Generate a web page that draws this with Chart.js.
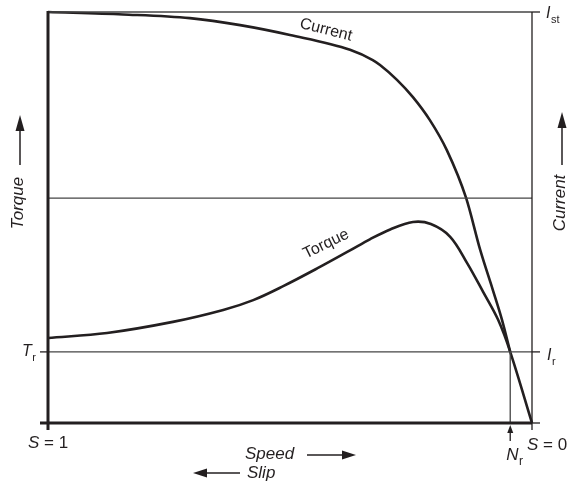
<!DOCTYPE html>
<html><head><meta charset="utf-8">
<script src="https://cdn.jsdelivr.net/npm/chart.js@4"></script>
<style>html,body{margin:0;padding:0;background:#fff}#wrap{width:580px;height:487px}</style>
</head><body><div id="wrap"><canvas id="c" width="580" height="487"></canvas></div>
<script>
// speed as % of synchronous (0 at S = 1, 100 at S = 0); values as % of full scale
const speedCurrent = [0, 15.5, 29.3, 39.7, 50.0, 62.4, 67.1, 68.6, 72.1, 75.4, 78.9, 82.4, 86.4, 89.3, 91.9, 93.8, 95.5];
const currentValues = [100, 99.4, 98.5, 96.8, 94.4, 90.8, 88.3, 87.1, 83.5, 79.3, 73.7, 66.4, 54.7, 42.1, 32.4, 25.1, 17.3];
const speedTorque = [0, 12.2, 25.8, 36.2, 42.4, 48.6, 55.6, 62.4, 66.5, 70.7, 75.4, 79.1, 83.1, 86.6, 89.9, 93.0, 95.5, 100];
const torqueValues = [20.7, 21.9, 24.6, 27.5, 29.9, 33.3, 37.6, 42.0, 44.7, 47.1, 48.9, 48.4, 45.3, 38.9, 31.9, 25.1, 17.3, 0];
const ratedLevel = 17.3;   // T_r / I_r
const midLevel = 54.7;
const startLevel = 100;    // I_st
const ratedSpeed = 95.5;   // N_r

const INK = '#231f20';
const FONT = '"Liberation Sans", Arial, Helvetica, sans-serif';

const pts = (xs, ys) => xs.map((x, i) => ({x, y: ys[i]}));

function arrowHead(ctx, x, y, dir, len, half) {
  ctx.beginPath();
  if (dir === 'up') { ctx.moveTo(x, y); ctx.lineTo(x - half, y + len); ctx.lineTo(x + half, y + len); }
  if (dir === 'right') { ctx.moveTo(x, y); ctx.lineTo(x - len, y - half); ctx.lineTo(x - len, y + half); }
  if (dir === 'left') { ctx.moveTo(x, y); ctx.lineTo(x + len, y - half); ctx.lineTo(x + len, y + half); }
  ctx.closePath(); ctx.fill();
}

function subLabel(ctx, main, sub, x, y, size) {
  ctx.textAlign = 'left'; ctx.textBaseline = 'middle';
  ctx.font = 'italic ' + size + 'px ' + FONT;
  ctx.fillText(main, x, y);
  const w = ctx.measureText(main).width;
  ctx.font = Math.round(size * 0.68) + 'px ' + FONT;
  ctx.fillText(sub, x + w + 0.5, y + size * 0.38);
}

const decor = {
  id: 'decor',
  afterDatasetsDraw(chart) {
    const ctx = chart.ctx, xs = chart.scales.x, ys = chart.scales.y;
    const L = xs.getPixelForValue(0), R = xs.getPixelForValue(100);
    const T = ys.getPixelForValue(100), B = ys.getPixelForValue(0);
    const yr = ys.getPixelForValue(ratedLevel), xn = xs.getPixelForValue(ratedSpeed);
    ctx.save();
    ctx.strokeStyle = INK; ctx.fillStyle = INK;
    ctx.lineWidth = 1.3;
    ctx.beginPath(); ctx.moveTo(R, T); ctx.lineTo(R, B + 7); ctx.stroke();
    [T, yr, B].forEach(y => { ctx.beginPath(); ctx.moveTo(R, y); ctx.lineTo(R + 8, y); ctx.stroke(); });
    ctx.beginPath(); ctx.moveTo(L - 8, yr); ctx.lineTo(L, yr); ctx.stroke();
    ctx.lineWidth = 3;
    ctx.beginPath(); ctx.moveTo(L, T - 1); ctx.lineTo(L, B + 7); ctx.stroke();
    ctx.beginPath(); ctx.moveTo(L - 8, B); ctx.lineTo(R, B); ctx.stroke();

    subLabel(ctx, 'T', 'r', 22, yr, 16);
    subLabel(ctx, 'I', 'st', R + 14, T + 2, 16);
    subLabel(ctx, 'I', 'r', R + 15, yr + 4, 16);

    function sEq(text, x, y, align) {
      ctx.textBaseline = 'middle';
      ctx.font = 'italic 17px ' + FONT;
      const w1 = ctx.measureText('S').width;
      ctx.font = '17px ' + FONT;
      const w2 = ctx.measureText(text).width;
      let x0 = align === 'center' ? x - (w1 + w2) / 2 : x;
      ctx.textAlign = 'left';
      ctx.font = 'italic 17px ' + FONT; ctx.fillText('S', x0, y);
      ctx.font = '17px ' + FONT; ctx.fillText(text, x0 + w1, y);
    }
    sEq(' = 1', L, B + 20, 'center');
    sEq(' = 0', R - 5, B + 22, 'left');

    subLabel(ctx, 'N', 'r', xn - 4, B + 32, 17);
    ctx.lineWidth = 1.3;
    ctx.beginPath(); ctx.moveTo(xn, B + 18); ctx.lineTo(xn, B + 6); ctx.stroke();
    arrowHead(ctx, xn, B + 2, 'up', 8, 3);

    ctx.textAlign = 'left'; ctx.textBaseline = 'middle';
    ctx.font = 'italic 17px ' + FONT;
    ctx.fillText('Speed', 245, B + 31);
    ctx.fillText('Slip', 247, B + 50);
    ctx.lineWidth = 1.5;
    ctx.beginPath(); ctx.moveTo(307, B + 32); ctx.lineTo(345, B + 32); ctx.stroke();
    arrowHead(ctx, 356, B + 32, 'right', 14, 4.5);
    ctx.beginPath(); ctx.moveTo(240, B + 50); ctx.lineTo(205, B + 50); ctx.stroke();
    arrowHead(ctx, 193, B + 50, 'left', 14, 4.5);

    function vTitle(text, x, yc, tipY) {
      ctx.save();
      ctx.translate(x, yc); ctx.rotate(-Math.PI / 2);
      ctx.textAlign = 'center'; ctx.textBaseline = 'middle';
      ctx.font = 'italic 17px ' + FONT;
      ctx.fillText(text, 0, 0);
      ctx.restore();
      ctx.lineWidth = 1.5;
      ctx.beginPath(); ctx.moveTo(x + 2, 165); ctx.lineTo(x + 2, tipY + 12); ctx.stroke();
      arrowHead(ctx, x + 2, tipY, 'up', 16, 4.5);
    }
    vTitle('Torque', 18, 203, 115);
    vTitle('Current', 560, 203, 112);

    ctx.font = '16px ' + FONT; ctx.textAlign = 'center'; ctx.textBaseline = 'middle';
    ctx.save(); ctx.translate(326, 30); ctx.rotate(14 * Math.PI / 180); ctx.fillText('Current', 0, 0); ctx.restore();
    ctx.save(); ctx.translate(326, 244); ctx.rotate(-26 * Math.PI / 180); ctx.fillText('Torque', 0, 0); ctx.restore();
    ctx.restore();
  }
};

const thin = {borderColor: '#444', borderWidth: 1.3, pointRadius: 0, tension: 0, clip: 5};
new Chart(document.getElementById('c'), {
  type: 'line',
  data: {
    datasets: [
      Object.assign({label: 'top', data: pts([0, 100], [startLevel, startLevel])}, thin),
      Object.assign({label: 'mid', data: pts([0, 100], [midLevel, midLevel])}, thin),
      Object.assign({label: 'rated', data: pts([0, 100], [ratedLevel, ratedLevel])}, thin),
      Object.assign({label: 'Nr', data: pts([ratedSpeed, ratedSpeed], [0, ratedLevel])}, thin),
      {label: 'Current', data: pts(speedCurrent, currentValues), borderColor: INK, borderWidth: 2.6,
       pointRadius: 0, cubicInterpolationMode: 'monotone', clip: 5},
      {label: 'Torque', data: pts(speedTorque, torqueValues), borderColor: INK, borderWidth: 2.6,
       pointRadius: 0, tension: 0.35, clip: 5}
    ]
  },
  options: {
    responsive: false, animation: false, devicePixelRatio: 1,
    layout: {padding: {left: 48, right: 48, top: 12, bottom: 64}},
    plugins: {legend: {display: false}, tooltip: {enabled: false}},
    scales: {
      x: {type: 'linear', min: 0, max: 100, display: false},
      y: {type: 'linear', min: 0, max: 100, display: false}
    }
  },
  plugins: [decor]
});
</script></body></html>
